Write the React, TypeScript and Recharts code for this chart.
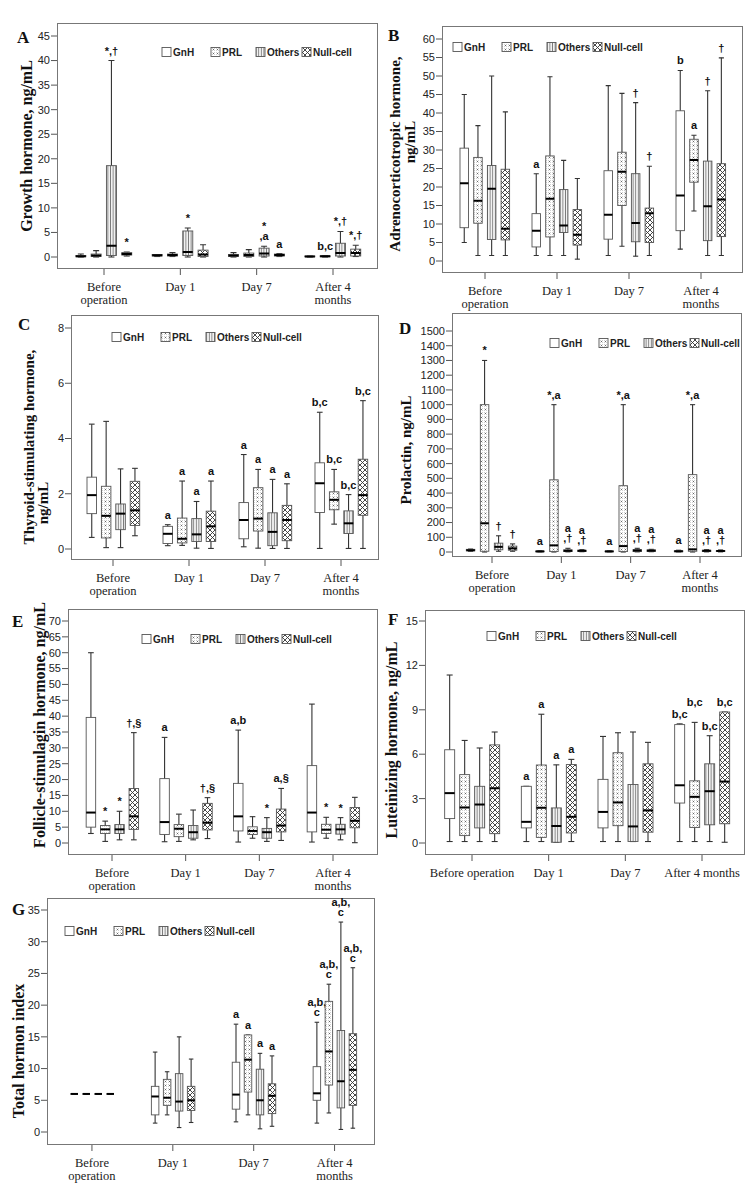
import React from "react";
import { ComposedChart, Bar, XAxis, YAxis } from "recharts";

// time points (shared by all panels)
const categories = ["Before\noperation", "Day 1", "Day 7", "After 4\nmonths"];
const seriesNames = ["GnH", "PRL", "Others", "Null-cell"];

// each entry: [min, q1, median, q3, max] for one time point

// A. growth hormone
const ghGnH = [[0, 0.05, 0.15, 0.3, 0.6], [0.1, 0.2, 0.35, 0.5, 0.5], [0, 0.1, 0.3, 0.5, 0.9], [0, 0.05, 0.1, 0.2, 0.2]];
const ghPRL = [[0, 0.1, 0.3, 0.6, 1.3], [0.1, 0.2, 0.4, 0.6, 0.9], [0, 0.1, 0.4, 0.8, 1.5], [0, 0.05, 0.15, 0.25, 0.3]];
const ghOthers = [[0, 0.3, 2.3, 18.6, 40], [0, 0.3, 1.0, 5.3, 5.9], [0, 0.2, 0.7, 1.8, 2.2], [0, 0.2, 0.8, 2.8, 5.2]];
const ghNull = [[0.2, 0.4, 0.6, 0.9, 1.0], [0, 0.1, 0.5, 1.4, 2.5], [0.1, 0.2, 0.4, 0.6, 0.7], [0.1, 0.2, 0.8, 1.6, 2.4]];
const ghNotes = [["", "", "*,†", "*"], ["", "", "*", ""], ["", "", "*\n,a", "a"], ["", "b,c", "*,†", "*,†"]];
const ghTicks = [0, 5, 10, 15, 20, 25, 30, 35, 40, 45];

// B. ACTH
const acthGnH = [[5, 9, 21, 30.5, 45], [1.5, 3.8, 8.2, 12.8, 23.6], [1.5, 5.9, 12.5, 24.4, 47.4], [3.2, 8.2, 17.7, 40.6, 51.5]];
const acthPRL = [[1.5, 10.2, 16.3, 28, 36.6], [1.5, 6.5, 16.8, 28.4, 49.8], [4, 15, 24.1, 29.4, 45.3], [13.5, 21.3, 27.3, 32.9, 34]];
const acthOthers = [[1.5, 5.8, 19.5, 25.8, 50], [1.5, 7.7, 9.6, 19.3, 27.2], [1.3, 5.2, 10.3, 23.6, 42.8], [1.5, 5.5, 14.8, 27, 46]];
const acthNull = [[1.5, 5.7, 8.7, 24.8, 40.3], [0.5, 4.3, 7.1, 13.9, 22.3], [1.5, 5, 12.9, 14.3, 25.6], [1.5, 6.6, 16.6, 26.3, 54.9]];
const acthNotes = [["", "", "", ""], ["a", "", "", ""], ["", "", "†", "†"], ["b", "a", "†", "†"]];
const acthTicks = [0, 5, 10, 15, 20, 25, 30, 35, 40, 45, 50, 55, 60];

// C. TSH
const tshGnH = [[0.42, 1.28, 1.95, 2.6, 4.52], [0.12, 0.2, 0.55, 0.82, 0.88], [0.08, 0.37, 1.05, 1.68, 3.42], [0.02, 1.32, 2.38, 3.12, 4.95]];
const tshPRL = [[0.05, 0.4, 1.2, 2.27, 4.62], [0.13, 0.22, 0.37, 1.12, 2.46], [0.03, 0.65, 1.1, 2.22, 2.88], [0.9, 1.42, 1.78, 2.07, 2.88]];
const tshOthers = [[0.05, 0.7, 1.28, 1.63, 2.9], [0.03, 0.27, 0.53, 1.1, 1.72], [0.02, 0.12, 0.62, 1.31, 2.52], [0.02, 0.56, 0.93, 1.38, 1.97]];
const tshNull = [[0.48, 0.85, 1.4, 2.45, 2.92], [0.02, 0.27, 0.82, 1.37, 2.46], [0.02, 0.3, 1.05, 1.58, 2.36], [0.02, 1.22, 1.95, 3.25, 5.37]];
const tshNotes = [["", "", "", ""], ["a", "a", "a", "a"], ["a", "a", "a", "a"], ["b,c", "b,c", "b,c", "b,c"]];
const tshTicks = [0, 2, 4, 6, 8];

// D. prolactin
const prlGnH = [[5, 8, 12, 18, 20], [1, 2, 4, 6, 8], [1, 2, 4, 6, 8], [1, 2, 5, 8, 12]];
const prlPRL = [[0, 5, 195, 1000, 1300], [0, 3, 45, 490, 1000], [0, 3, 40, 450, 1000], [0, 5, 18, 525, 1000]];
const prlOthers = [[5, 15, 35, 60, 110], [1, 3, 8, 15, 25], [1, 3, 10, 16, 25], [1, 3, 8, 12, 16]];
const prlNull = [[5, 12, 25, 40, 55], [2, 4, 8, 12, 16], [2, 4, 9, 14, 18], [1, 3, 7, 10, 14]];
const prlNotes = [["", "*", "†", "†"], ["a", "*,a", "a\n,†", "a\n,†"], ["a", "*,a", "a\n,†", "a\n,†"], ["a", "*,a", "a\n,†", "a\n,†"]];
const prlTicks = [0, 100, 200, 300, 400, 500, 600, 700, 800, 900, 1000, 1100, 1200, 1300, 1400, 1500];

// E. FSH
const fshGnH = [[3, 5, 9.6, 39.6, 60], [0.4, 2.7, 6.6, 20.3, 33.3], [0.3, 3.8, 8.4, 18.8, 35.6], [0.3, 3.5, 9.6, 24.4, 43.8]];
const fshPRL = [[0.5, 3, 4.3, 5.5, 6.9], [0.5, 2, 4.5, 5.8, 9.1], [1.5, 2.7, 3.8, 5.1, 8.3], [1.5, 3, 4.2, 5.9, 8.1]];
const fshOthers = [[1, 3, 4.3, 5.8, 10], [1, 1.5, 3.4, 5.5, 10.4], [0.5, 1.5, 3.4, 4.6, 8], [1, 2.8, 4.3, 5.9, 8]];
const fshNull = [[1, 4.3, 8.4, 17.2, 34.8], [1.4, 4.1, 6.4, 12.5, 14.3], [0.8, 3.5, 5.5, 10.7, 17.2], [0.1, 4.8, 7, 11.2, 14.4]];
const fshNotes = [["", "*", "*", "†,§"], ["a", "", "", "†,§"], ["a,b", "", "*", "a,§"], ["", "*", "*", ""]];
const fshTicks = [0, 5, 10, 15, 20, 25, 30, 35, 40, 45, 50, 55, 60, 65, 70];

// F. LH
const lhGnH = [[0.1, 1.65, 3.37, 6.3, 11.35], [0.1, 1.02, 1.43, 3.83, 3.83], [0.1, 1.02, 2.1, 4.3, 7.2], [0.1, 2.7, 3.9, 8.0, 8.05]];
const lhPRL = [[0.1, 0.5, 2.4, 4.62, 6.93], [0.1, 0.38, 2.38, 5.27, 8.7], [0.1, 1.17, 2.74, 6.1, 7.45], [0.1, 1.05, 3.12, 4.2, 8.15]];
const lhOthers = [[0.1, 1.02, 2.6, 3.83, 6.42], [0.05, 0.05, 1.15, 2.37, 5.28], [0.1, 0.1, 1.12, 3.95, 7.5], [0.1, 1.23, 3.5, 5.35, 7.25]];
const lhNull = [[0.1, 0.63, 3.7, 6.63, 7.5], [0.1, 0.68, 1.77, 5.3, 5.65], [0.1, 0.73, 2.2, 5.35, 6.8], [0.05, 1.3, 4.15, 8.85, 8.85]];
const lhNotes = [["", "", "", ""], ["a", "a", "a", "a"], ["", "", "", ""], ["b,c", "b,c\n", "b,c", "b,c"]];
const lhTicks = [0, 3, 6, 9, 12, 15];

// G. total hormone index
const thiGnH = [[6, 6, 6, 6, 6], [1.4, 2.7, 5.6, 7.2, 12.6], [1.6, 3.6, 5.9, 11, 17], [1.4, 5, 6.1, 10.3, 17.3]];
const thiPRL = [[6, 6, 6, 6, 6], [2.7, 4.2, 5.4, 8.3, 9.5], [2.7, 6.3, 11.4, 15.3, 15.3], [3, 7.4, 12.7, 20.6, 23.3]];
const thiOthers = [[6, 6, 6, 6, 6], [0.7, 3.3, 4.8, 9.2, 15], [0.5, 2.7, 5.0, 9.9, 12.4], [0.4, 3.8, 8, 16, 33.1]];
const thiNull = [[6, 6, 6, 6, 6], [1.5, 3.4, 5, 7.2, 11.5], [0.9, 2.9, 5.7, 7.6, 12], [0.6, 4.2, 9.8, 15.5, 25.9]];
const thiNotes = [["", "", "", ""], ["", "", "", ""], ["a", "a", "a", "a"], ["a,b,\nc", "a,b,\nc", "a,b,\nc", "a,b,\nc"]];
const thiTicks = [0, 5, 10, 15, 20, 25, 30, 35];

const PAGE_W = 756;
const PAGE_H = 1189;
const SANS = "'Liberation Sans', Arial, sans-serif";
const SERIF = "'Liberation Serif', 'Times New Roman', serif";
const fills = ["#ffffff", "url(#patPRL)", "url(#patOthers)", "url(#patNull)"];
const legendOffsets = [0, 49, 94, 140];

interface Panel {
  letter: string;
  series: number[][][];
  notes: string[][];
  ticks: number[];
  frame: { x0: number; y0: number; x1: number; y1: number };
  tickPx: [number, number]; // pixel of lowest and highest tick
  centers: [number, number]; // first and last category centre
  box: number;
  gap: number;
  legend: [number, number];
  letterPos: [number, number];
  titles: { text: string; x: number; y: number }[];
  titleSize: number;
  oneLine?: boolean;
}

const panels: Panel[] = [
  {
    letter: "A", series: [ghGnH, ghPRL, ghOthers, ghNull], notes: ghNotes, ticks: ghTicks,
    frame: { x0: 57, y0: 23, x1: 378, y1: 269 }, tickPx: [257, 36], centers: [104, 333], box: 10, gap: 5.3,
    legend: [162, 52], letterPos: [17, 43], titles: [{ text: "Growth hormone, ng/mL", x: 26, y: 146 }], titleSize: 16,
  },
  {
    letter: "B", series: [acthGnH, acthPRL, acthOthers, acthNull], notes: acthNotes, ticks: acthTicks,
    frame: { x0: 442, y0: 26, x1: 743, y1: 273 }, tickPx: [261, 39], centers: [485, 701], box: 8.5, gap: 5.2,
    legend: [453, 47], letterPos: [388, 41],
    titles: [{ text: "Adrenocorticotropic hormone,", x: 395, y: 154 }, { text: "ng/mL", x: 410, y: 142 }], titleSize: 15,
  },
  {
    letter: "C", series: [tshGnH, tshPRL, tshOthers, tshNull], notes: tshNotes, ticks: tshTicks,
    frame: { x0: 71, y0: 315, x1: 379, y1: 560 }, tickPx: [549, 328], centers: [113, 341], box: 9.5, gap: 4.9,
    legend: [112, 337], letterPos: [18, 330],
    titles: [{ text: "Thyroid-stimulating hormone,", x: 29, y: 447 }, { text: "ng/mL", x: 43, y: 503 }], titleSize: 15,
  },
  {
    letter: "D", series: [prlGnH, prlPRL, prlOthers, prlNull], notes: prlNotes, ticks: prlTicks,
    frame: { x0: 452, y0: 313, x1: 742, y1: 557 }, tickPx: [552, 331], centers: [492, 700], box: 8.5, gap: 5.5,
    legend: [550, 343], letterPos: [399, 334], titles: [{ text: "Prolactin, ng/mL", x: 406, y: 450 }], titleSize: 15,
  },
  {
    letter: "E", series: [fshGnH, fshPRL, fshOthers, fshNull], notes: fshNotes, ticks: fshTicks,
    frame: { x0: 68, y0: 609, x1: 378, y1: 855 }, tickPx: [843, 621], centers: [112, 333], box: 9.5, gap: 4.8,
    legend: [142, 639], letterPos: [12, 627],
    titles: [{ text: "Follicle-stimulagin hormone, ng/mL", x: 39, y: 725 }], titleSize: 16,
  },
  {
    letter: "F", series: [lhGnH, lhPRL, lhOthers, lhNull], notes: lhNotes, ticks: lhTicks,
    frame: { x0: 425, y0: 610, x1: 745, y1: 855 }, tickPx: [843, 621], centers: [472, 702], box: 10, gap: 5,
    legend: [487, 636], letterPos: [388, 625],
    titles: [{ text: "Luteinizing hormone, ng/mL", x: 391, y: 740 }], titleSize: 16, oneLine: true,
  },
  {
    letter: "G", series: [thiGnH, thiPRL, thiOthers, thiNull], notes: thiNotes, ticks: thiTicks,
    frame: { x0: 47, y0: 898, x1: 375, y1: 1145 }, tickPx: [1132, 910], centers: [92, 335], box: 7.5, gap: 4.5,
    legend: [65, 931], letterPos: [12, 915], titles: [{ text: "Total hormon index", x: 18, y: 1051 }], titleSize: 16,
  },
];

// draws one box-and-whisker from the bar's [min, max] rectangle
const boxShape = (si: number) => (props: any) => {
  const { x, y, width, height, payload } = props;
  const st: number[] | undefined = payload?.stats?.[si];
  if (!st || !Number.isFinite(y) || !Number.isFinite(x)) return <g />;
  const [lo, q1, md, q3, hi] = st;
  const k = hi > lo && height > 0 ? height / (hi - lo) : 0;
  const py = (v: number) => y + (hi - v) * k;
  const cx = x + width / 2;
  const cap = width * 0.3;
  const note: string = payload.notes?.[si] ?? "";
  const lines = note ? note.split("\n") : [];
  return (
    <g>
      <line x1={cx} x2={cx} y1={py(hi)} y2={py(lo)} stroke="#333" strokeWidth={1.1} />
      <line x1={cx - cap} x2={cx + cap} y1={py(hi)} y2={py(hi)} stroke="#333" strokeWidth={1.1} />
      <line x1={cx - cap} x2={cx + cap} y1={py(lo)} y2={py(lo)} stroke="#333" strokeWidth={1.1} />
      <rect x={x} y={py(q3)} width={width} height={Math.max(py(q1) - py(q3), 0)} fill={fills[si]} stroke="#555" strokeWidth={0.9} />
      <line x1={x} x2={x + width} y1={py(md)} y2={py(md)} stroke="#000" strokeWidth={2} />
      {lines.map((t, i) => (
        <text key={i} x={cx} y={py(hi) - 6 - (lines.length - 1 - i) * 10} textAnchor="middle" fontSize={11} fontWeight="bold" fontFamily={SANS} fill="#111">
          {t}
        </text>
      ))}
    </g>
  );
};

const catTick = (oneLine: boolean) => (props: any) => {
  const { x, y, payload } = props;
  const raw: string = payload.value;
  const lines = oneLine ? [raw.replace("\n", " ")] : raw.split("\n");
  return (
    <text x={x} y={y} textAnchor="middle" fontFamily={SERIF} fontSize={12.5} fill="#222">
      {lines.map((l, i) => (
        <tspan key={i} x={x} dy={i === 0 ? 14 : 12.5}>{l}</tspan>
      ))}
    </text>
  );
};

function BoxPanel({ p }: { p: Panel }) {
  const { x0, y0, x1, y1 } = p.frame;
  const band = (p.centers[1] - p.centers[0]) / 3;
  const padL = Math.max(0, p.centers[0] - x0 - band / 2);
  const padR = Math.max(0, x1 - p.centers[1] - band / 2);
  const tMin = p.ticks[0];
  const tMax = p.ticks[p.ticks.length - 1];
  const unit = (p.tickPx[0] - p.tickPx[1]) / (tMax - tMin);
  const domain = [tMin - (y1 - p.tickPx[0]) / unit, tMax + (p.tickPx[1] - y0) / unit];
  const data = categories.map((c, ci) => ({ cat: c, stats: p.series.map((s) => s[ci]), notes: p.notes[ci] }));
  return (
    <div style={{ position: "absolute", left: 0, top: 0 }}>
      <ComposedChart
        width={PAGE_W}
        height={PAGE_H}
        data={data}
        barGap={p.gap}
        margin={{ top: y0, left: x0 - 40, right: PAGE_W - x1, bottom: PAGE_H - y1 - 40 }}
      >
        <XAxis
          dataKey="cat"
          height={40}
          interval={0}
          padding={{ left: padL, right: padR }}
          axisLine={false}
          tickLine={{ stroke: "#555" }}
          tickSize={6}
          tickMargin={2}
          tick={catTick(!!p.oneLine)}
        />
        <YAxis
          type="number"
          width={40}
          domain={domain}
          allowDataOverflow
          ticks={p.ticks}
          interval={0}
          axisLine={false}
          tickLine={{ stroke: "#555" }}
          tickSize={6}
          tickMargin={1}
          tick={{ fontSize: 11, fill: "#222", fontFamily: SANS }}
        />
        {seriesNames.map((n, si) => (
          <Bar
            key={n}
            dataKey={(d: any) => [d.stats[si][0], d.stats[si][4]]}
            barSize={p.box}
            shape={boxShape(si)}
            isAnimationActive={false}
          />
        ))}
      </ComposedChart>
    </div>
  );
}

export default function App() {
  return (
    <div style={{ position: "absolute", left: 0, top: 0, width: PAGE_W, height: PAGE_H, background: "#fff", overflow: "hidden" }}>
      {panels.map((p) => (
        <div
          key={"f" + p.letter}
          style={{
            position: "absolute",
            left: p.frame.x0,
            top: p.frame.y0,
            width: p.frame.x1 - p.frame.x0,
            height: p.frame.y1 - p.frame.y0,
            border: "1px solid #777",
            boxSizing: "border-box",
          }}
        />
      ))}
      {panels.map((p) => (
        <BoxPanel key={p.letter} p={p} />
      ))}
      <svg width={PAGE_W} height={PAGE_H} style={{ position: "absolute", left: 0, top: 0, pointerEvents: "none" }}>
        <defs>
          <pattern id="patPRL" width="4" height="4" patternUnits="userSpaceOnUse">
            <rect width="4" height="4" fill="#fff" />
            <path d="M0.6 0.6 L2.4 2.4 M2.4 0.6 L0.6 2.4" stroke="#555" strokeWidth="0.7" />
          </pattern>
          <pattern id="patOthers" width="2.6" height="4" patternUnits="userSpaceOnUse">
            <rect width="2.6" height="4" fill="#f2f2f2" />
            <line x1="1.3" y1="0" x2="1.3" y2="4" stroke="#666" strokeWidth="0.8" />
          </pattern>
          <pattern id="patNull" width="5" height="5" patternUnits="userSpaceOnUse">
            <rect width="5" height="5" fill="#fff" />
            <path d="M0 0 L5 5 M5 0 L0 5" stroke="#333" strokeWidth="0.9" />
          </pattern>
        </defs>
        {panels.map((p) => (
          <g key={"o" + p.letter}>
            <text x={p.letterPos[0]} y={p.letterPos[1]} fontFamily={SERIF} fontWeight="bold" fontSize={17} fill="#111">
              {p.letter}
            </text>
            {p.titles.map((t) => (
              <text
                key={t.text}
                transform={`translate(${t.x},${t.y}) rotate(-90)`}
                textAnchor="middle"
                dominantBaseline="central"
                fontFamily={SERIF}
                fontWeight="bold"
                fontSize={p.titleSize}
                fill="#111"
              >
                {t.text}
              </text>
            ))}
            {seriesNames.map((n, si) => (
              <g key={n}>
                <rect
                  x={p.legend[0] + legendOffsets[si]}
                  y={p.legend[1] - 4.5}
                  width={9}
                  height={9}
                  fill={fills[si]}
                  stroke="#555"
                  strokeWidth={0.9}
                />
                <text x={p.legend[0] + legendOffsets[si] + 11} y={p.legend[1] + 3.8} fontFamily={SANS} fontWeight="bold" fontSize={10} fill="#222">
                  {n}
                </text>
              </g>
            ))}
          </g>
        ))}
      </svg>
    </div>
  );
}
